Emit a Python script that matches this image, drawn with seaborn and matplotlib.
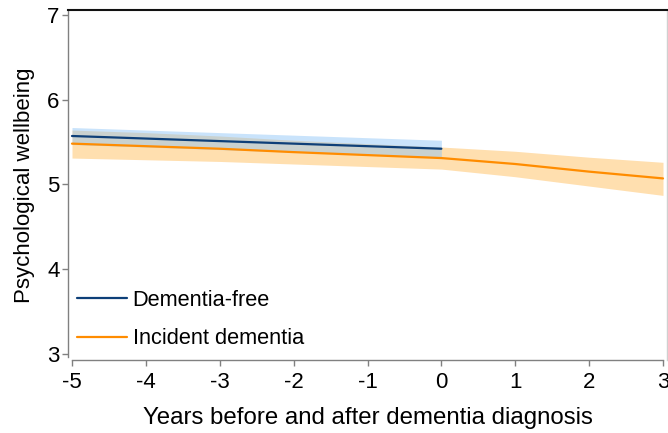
import numpy as np
import pandas as pd
import matplotlib
matplotlib.use("Agg")
import matplotlib.pyplot as plt
import seaborn as sns

# Values
years_free = [-5, -4, -3, -2, -1, 0]
free_mean = [5.57, 5.54, 5.51, 5.48, 5.45, 5.42]
free_low = [5.47, 5.44, 5.41, 5.38, 5.35, 5.32]
free_high = [5.67, 5.64, 5.61, 5.58, 5.55, 5.52]

years_dem = [-5, -4, -3, -2, -1, 0, 1, 2, 3]
dem_mean = [5.48, 5.45, 5.42, 5.38, 5.345, 5.31, 5.24, 5.15, 5.07]
dem_low = [5.31, 5.29, 5.27, 5.24, 5.21, 5.18, 5.09, 4.98, 4.87]
dem_high = [5.64, 5.61, 5.57, 5.52, 5.48, 5.44, 5.39, 5.32, 5.26]

sns.set_style("white")
plt.rcParams['font.family'] = ['Liberation Sans', 'DejaVu Sans']
plt.rcParams['axes.unicode_minus'] = False
plt.rcParams['text.color'] = 'black'
plt.rcParams['axes.labelcolor'] = 'black'
plt.rcParams['xtick.labelcolor'] = 'black'
plt.rcParams['ytick.labelcolor'] = 'black'

fig = plt.figure(figsize=(6.68, 4.33), dpi=100)
ax = fig.add_axes([68 / 668, 1 - 360 / 433, 599 / 668, 350 / 433])

blue = '#0d3f78'
orange = '#ff8c00'

ax.fill_between(years_dem, dem_low, dem_high, color='#ffc56e', alpha=0.55, lw=0)
ax.fill_between(years_free, free_low, free_high, color='#88c2f7', alpha=0.45, lw=0)

df_free = pd.DataFrame({'year': years_free, 'value': free_mean})
df_dem = pd.DataFrame({'year': years_dem, 'value': dem_mean})
sns.lineplot(data=df_free, x='year', y='value', ax=ax, color=blue, lw=1.6, label='Dementia-free')
sns.lineplot(data=df_dem, x='year', y='value', ax=ax, color=orange, lw=1.6, label='Incident dementia')

ax.set_xlim(-5.054, 3.054)
ax.set_ylim(2.93, 7.055)
ax.set_xticks(range(-5, 4))
ax.set_yticks(range(3, 8))
ax.set_xlabel('Years before and after dementia diagnosis', fontsize=17.3, labelpad=10)
ax.set_ylabel('Psychological wellbeing', fontsize=16, labelpad=9)
ax.tick_params(axis='both', labelsize=16, length=4, width=1, color='#808080',
               left=True, bottom=True)
ax.tick_params(axis='x', pad=5)
ax.tick_params(axis='y', pad=2)

for side in ['left', 'bottom']:
    ax.spines[side].set_color('#808080')
    ax.spines[side].set_linewidth(1)
ax.spines['left'].set_bounds(2.97, 7.055)
ax.spines['bottom'].set_bounds(-5, 3)
ax.spines['top'].set_color('#111111')
ax.spines['top'].set_linewidth(1.5)
ax.spines['right'].set_color('#d0d0d0')
ax.spines['right'].set_linewidth(1)

leg = ax.legend(loc='upper left', frameon=False, fontsize=15.7, handlelength=2.3,
                handletextpad=0.25, labelspacing=0.8, borderpad=0, borderaxespad=0,
                bbox_to_anchor=(0.015, 0.2))

fig.savefig('out.png', dpi=100)
